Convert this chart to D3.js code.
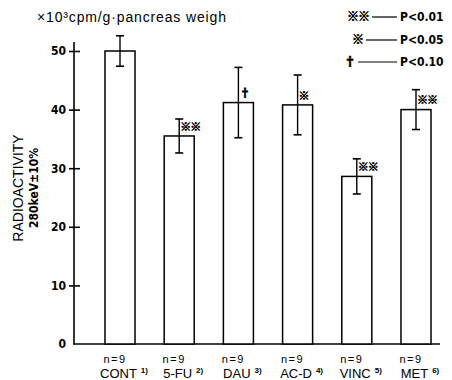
<!DOCTYPE html>
<html><head><meta charset="utf-8">
<script src="https://cdn.jsdelivr.net/npm/d3@7"></script>
<style>
html,body{margin:0;padding:0;background:#fff;}
svg{display:block;}
</style></head>
<body>
<script>
const categories = ["CONT", "5-FU", "DAU", "AC-D", "VINC", "MET"];
const refs = ["1)", "2)", "3)", "4)", "5)", "6)"];
const nLabels = ["n=9", "n=9", "n=9", "n=9", "n=9", "n=9"];
const values = [50.0, 35.5, 41.2, 40.8, 28.6, 40.0];
const errors = [2.6, 2.9, 6.0, 5.1, 3.0, 3.4];
const marks = ["", "※※", "†", "※", "※※", "※※"];
const yTicks = [0, 10, 20, 30, 40, 50];
const legendMarks = ["※※", "※", "†"];
const legendTexts = ["P<0.01", "P<0.05", "P<0.10"];

const W = 452, H = 380;
const svg = d3.select("body").append("svg").attr("width", W).attr("height", H);
const numFont = "'DejaVu Sans',sans-serif";
const txtFont = "'Liberation Sans',Arial,sans-serif";
const markFont = "'Noto Sans CJK JP','DejaVu Sans',sans-serif";

const x = d3.scaleBand().domain(categories).range([75.4, 460.6]).paddingInner(0.493).paddingOuter(0.5);
const y = d3.scaleLinear().domain([0, 50]).range([344, 51]);

// y axis
const yAxis = d3.axisLeft(y).tickValues(yTicks).tickSize(0).tickPadding(8).tickFormat(d3.format("d"));
const gy = svg.append("g").attr("transform", "translate(74,0)").call(yAxis);
gy.select(".domain").remove();
gy.selectAll("text").attr("font-family", numFont).attr("font-weight", "bold").attr("font-size", 12)
  .attr("font-stretch", "condensed").attr("fill", "#000");
gy.selectAll(".tick").filter(d => d !== 0).append("line")
  .attr("x1", -5).attr("x2", 6).attr("stroke", "#000").attr("stroke-width", 1.6);
svg.append("line").attr("x1", 74).attr("x2", 74).attr("y1", 42).attr("y2", 344.5)
  .attr("stroke", "#000").attr("stroke-width", 1.6);
svg.append("line").attr("x1", 73.2).attr("x2", 440).attr("y1", 344).attr("y2", 344)
  .attr("stroke", "#000").attr("stroke-width", 1.6);

// bars
const g = svg.append("g");
categories.forEach((c, i) => {
  const cx = x(c) + x.bandwidth() / 2;
  g.append("rect").attr("x", x(c)).attr("y", y(values[i]))
    .attr("width", x.bandwidth()).attr("height", y(0) - y(values[i]))
    .attr("fill", "#fff").attr("stroke", "#000").attr("stroke-width", 1.5);
  const t = y(values[i] + errors[i]), b = y(values[i] - errors[i]);
  g.append("line").attr("x1", cx).attr("x2", cx).attr("y1", t).attr("y2", b).attr("stroke", "#000").attr("stroke-width", 1.4);
  [t, b].forEach(yy => g.append("line").attr("x1", cx - 4).attr("x2", cx + 4).attr("y1", yy).attr("y2", yy).attr("stroke", "#000").attr("stroke-width", 1.6));
  if (marks[i]) {
    g.append("text").attr("x", cx + 1).attr("y", y(values[i]) - 9).attr("dy", "0.35em")
      .attr("font-family", markFont).attr("font-size", 11).attr("font-weight", "bold")
      .attr("stroke", "#000").attr("stroke-width", 0.6)
      .attr("letter-spacing", "-1px").text(marks[i]);
  }
  g.append("text").attr("x", cx - 5).attr("y", 363).attr("text-anchor", "middle")
    .attr("font-family", txtFont).attr("font-size", 11).attr("letter-spacing", "1.5px").text(nLabels[i]);
  const lab = g.append("text").attr("x", cx + 4).attr("y", 378).attr("text-anchor", "middle")
    .attr("font-family", txtFont).attr("font-size", 13);
  lab.append("tspan").text(categories[i]);
  lab.append("tspan").attr("dx", 4).attr("dy", -5).attr("font-size", 8).attr("font-weight", "bold").text(refs[i]);
});

// title
svg.append("text").attr("x", 37).attr("y", 22).attr("font-family", txtFont).attr("font-size", 14)
  .attr("textLength", 189).attr("lengthAdjust", "spacing")
  .text("×10³cpm/g·pancreas weigh");

// y label
svg.append("text").attr("transform", "translate(23,188) rotate(-90)").attr("text-anchor", "middle")
  .attr("font-family", txtFont).attr("font-size", 14).text("RADIOACTIVITY");
svg.append("text").attr("transform", "translate(38,188) rotate(-90)").attr("text-anchor", "middle")
  .attr("font-family", numFont).attr("font-weight", "bold").attr("font-stretch", "condensed").attr("font-size", 12).text("280keV±10%");

// legend
const legY = [17, 40, 62];
const legStart = [372, 366, 358];
legendTexts.forEach((t, i) => {
  svg.append("text").attr("x", legStart[i] - 3).attr("y", legY[i]).attr("dy", "0.35em").attr("text-anchor", "end")
    .attr("font-family", markFont).attr("font-size", 12).attr("font-weight", "bold")
    .attr("stroke", "#000").attr("stroke-width", 0.6)
    .attr("letter-spacing", "-1px").text(legendMarks[i]);
  svg.append("line").attr("x1", legStart[i]).attr("x2", 397).attr("y1", legY[i]).attr("y2", legY[i])
    .attr("stroke", "#000").attr("stroke-width", 1.2);
  svg.append("text").attr("x", 400).attr("y", legY[i]).attr("dy", "0.35em")
    .attr("font-family", numFont).attr("font-weight", "bold").attr("font-stretch", "condensed").attr("font-size", 12).text(t);
});
</script>
</body></html>
